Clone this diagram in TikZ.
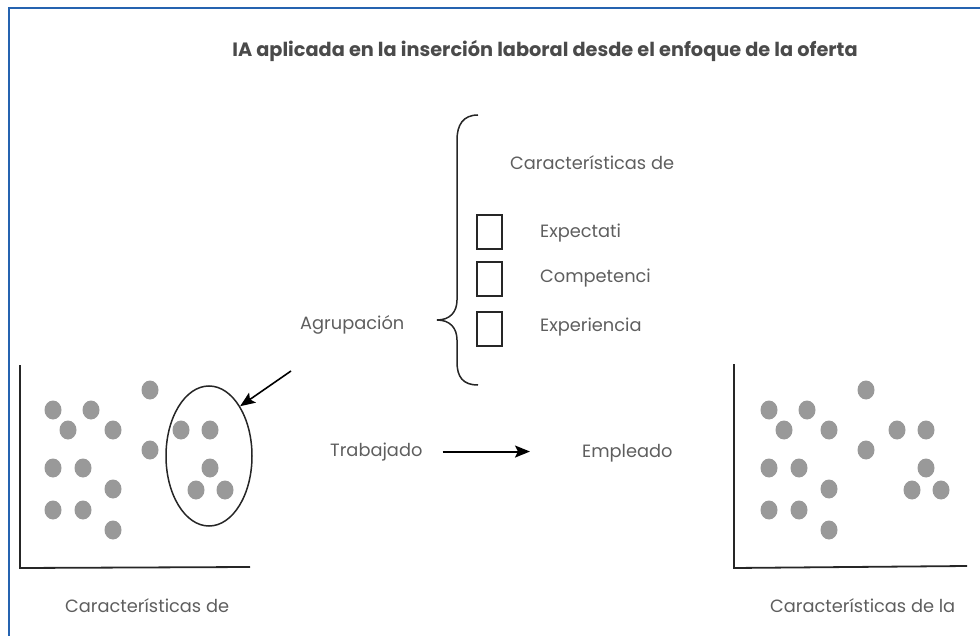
\documentclass[tikz,border=0pt]{standalone}
\usepackage{fontspec}
\setmainfont{Poppins}
\usetikzlibrary{arrows.meta,shapes.geometric}
\definecolor{txt}{HTML}{5E5E5E}
\definecolor{ttl}{HTML}{4A4A4A}
\definecolor{dotc}{HTML}{999999}
\definecolor{framec}{HTML}{2563B0}
\begin{document}
\begin{tikzpicture}[x=1pt,y=-1pt,
  lbl/.style={text=txt,font=\fontsize{17.8}{20}\selectfont,inner sep=0pt,anchor=base west},
  dotn/.style={ellipse,fill=dotc,minimum width=17pt,minimum height=19pt,inner sep=0pt},
  axisl/.style={line width=1.8pt,draw=black!85},
  chk/.style={draw=black!85,line width=1.2pt,minimum width=25pt,minimum height=34pt,inner sep=0pt},
  arr/.style={line width=2pt,-{Stealth[length=15pt,width=12pt,inset=3pt]}}]
\useasboundingbox (0,0) rectangle (980,636);
\draw[framec,line width=1.6pt] (9,636) -- (9,8) -- (980,8);

% title
\node[text=ttl,font=\bfseries\fontsize{19.3}{22}\selectfont,inner sep=0pt] (title) at (545,51) {IA aplicada en la inserción laboral desde el enfoque de la oferta};

% brace
\draw[line width=1.5pt,draw=black!85] (478,115) .. controls (463,115) and (457,125) .. (457,140) -- (457,300)
  .. controls (457,312) and (450,320) .. (437,320)
  .. controls (450,320) and (457,328) .. (457,340) -- (457,362)
  .. controls (457,377) and (463,385) .. (478,385);

\node[lbl] (agr) at (300,330) {Agrupación};
\node[lbl] (carTop) at (510,170) {Características de};
\node[chk] (b1) at (489.5,232) {};
\node[chk] (b2) at (489.5,279) {};
\node[chk] (b3) at (489.5,329) {};
\node[lbl] (exp) at (540,238) {Expectati};
\node[lbl] (comp) at (540,283) {Competenci};
\node[lbl] (expe) at (540,332) {Experiencia};

% left chart
\coordinate (lo) at (20,568);
\draw[axisl] (20,365) -- (lo) -- (250,567);
\foreach \x/\y [count=\i] in {53/410, 91/410, 68/430, 113/430, 150/390, 150/450, 53/468, 83/468, 113/489, 53/510, 83/510, 113/530, 181/430, 210/430, 210/468, 196/490, 225/490}
  \node[dotn] (L\i) at (\x,\y) {};
\node[ellipse,draw=black!85,line width=1.5pt,minimum width=86pt,minimum height=140pt,inner sep=0pt] (grp) at (209,456) {};
\coordinate (arrStart) at (291,371);
\draw[arr,line width=1.6pt] (arrStart) -- (grp.58);
\node[lbl] (carL) at (65,612) {Características de};

% middle
\node[lbl] (trab) at (330,456) {Trabajado};
\node[lbl] (emp) at (582,457) {Empleado};
\draw[arr] ([xshift=20pt]trab.east) -- ([xshift=-52pt]emp.west |- trab.east);

% right chart
\coordinate (ro) at (734,568);
\draw[axisl] (734,364) -- (ro) -- (967,566);
\foreach \x/\y [count=\i] in {53/410, 91/410, 68/430, 113/430, 150/390, 150/450, 53/468, 83/468, 113/489, 53/510, 83/510, 113/530, 181/430, 210/430, 210/468, 196/490, 225/490}
  \node[dotn] (R\i) at (\x+716,\y) {};
\node[lbl] (carR) at (770,612) {Características de la};
\end{tikzpicture}
\end{document}
